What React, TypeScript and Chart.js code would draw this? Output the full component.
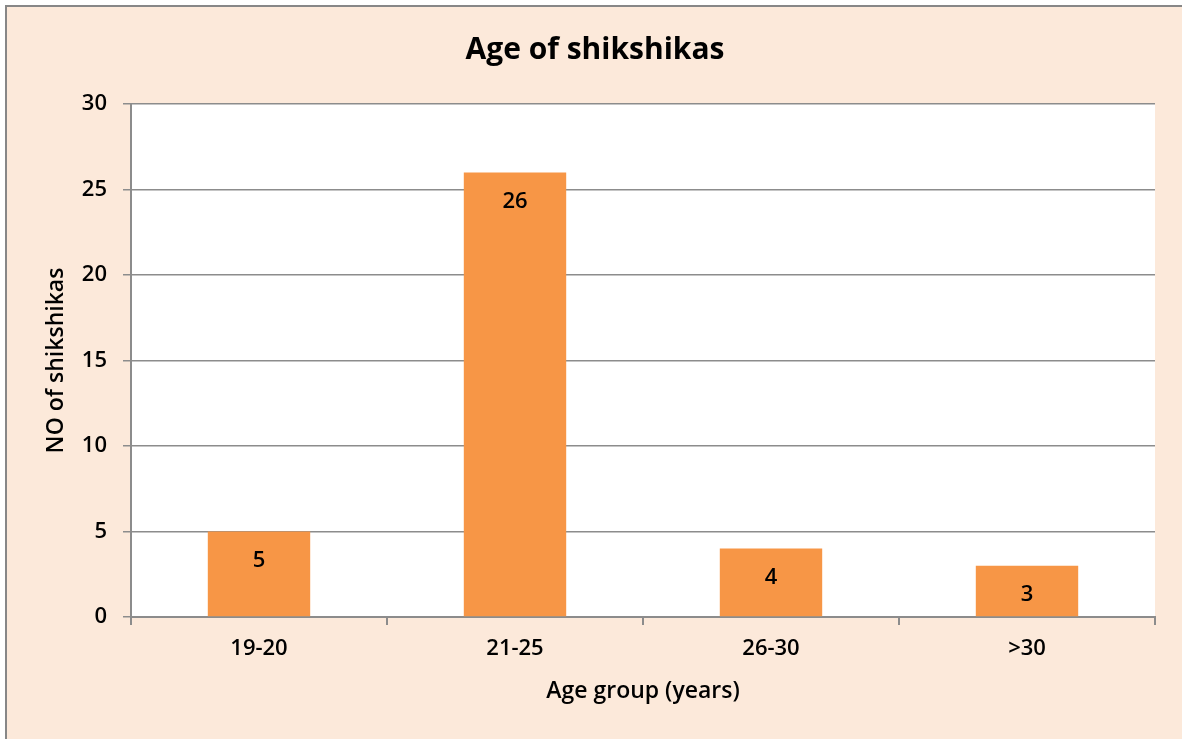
import React, { useEffect, useRef } from "react";
import { Chart, registerables } from "chart.js";

Chart.register(...registerables);

const categories = ["19-20", "21-25", "26-30", ">30"];
const counts = [5, 26, 4, 3];
const yTicks = [0, 5, 10, 15, 20, 25, 30];
const chartTitle = "Age of shikshikas";
const xTitle = "Age group (years)";
const yTitle = "NO of shikshikas";

const FONT = "'Open Sans', 'Noto Sans', sans-serif";
const BG = "#FCE9DA";
const BAR = "#F79646";
const GRID = "#8C8C8C";
const TXT_SIZE = 22;

const decorPlugin = {
  id: "decor",
  beforeDraw(chart: any) {
    const { ctx, chartArea, width, height } = chart;
    ctx.save();
    ctx.fillStyle = "#FFFFFF";
    ctx.fillRect(0, 0, width, height);
    ctx.fillStyle = BG;
    ctx.fillRect(5, 5, width, height);
    ctx.strokeStyle = "#878787";
    ctx.lineWidth = 2;
    ctx.beginPath();
    ctx.moveTo(6, height + 5);
    ctx.lineTo(6, 6);
    ctx.lineTo(width + 5, 6);
    ctx.stroke();
    ctx.fillStyle = "#FFFFFF";
    ctx.fillRect(chartArea.left, chartArea.top, chartArea.right - chartArea.left, chartArea.bottom - chartArea.top);
    ctx.restore();
  },
  afterDraw(chart: any) {
    const { ctx, chartArea } = chart;
    ctx.save();
    ctx.fillStyle = "#000000";
    ctx.textAlign = "center";
    ctx.textBaseline = "middle";
    ctx.font = `700 30px ${FONT}`;
    ctx.fillText(chartTitle, 595, 50);
    ctx.font = `600 23px ${FONT}`;
    ctx.fillText(xTitle, (chartArea.left + chartArea.right) / 2, 691);
    ctx.save();
    ctx.translate(56, (chartArea.top + chartArea.bottom) / 2);
    ctx.rotate(-Math.PI / 2);
    ctx.fillText(yTitle, 0, 0);
    ctx.restore();
    // data labels
    ctx.font = `600 ${TXT_SIZE}px ${FONT}`;
    const meta = chart.getDatasetMeta(0);
    meta.data.forEach((bar: any, i: number) => {
      ctx.fillText(String(counts[i]), bar.x, bar.y + 29);
    });
    ctx.restore();
  },
};

export default function App() {
  const ref = useRef<HTMLCanvasElement>(null);
  useEffect(() => {
    if (!ref.current) return;
    const chart = new Chart(ref.current, {
      type: "bar",
      data: {
        labels: categories,
        datasets: [
          {
            data: counts,
            backgroundColor: BAR,
            borderWidth: 0,
            barPercentage: 0.4,
            categoryPercentage: 1,
          },
        ],
      },
      options: {
        animation: false,
        responsive: false,
        maintainAspectRatio: false,
        events: [],
        layout: { padding: { left: 0, right: 27, top: 104, bottom: 0 } },
        plugins: {
          legend: { display: false },
          title: { display: false },
          tooltip: { enabled: false },
        },
        scales: {
          x: {
            grid: {
              display: true,
              drawOnChartArea: false,
              drawTicks: true,
              tickLength: 8,
              color: GRID,
              lineWidth: 2,
              offset: true,
            },
            border: { display: true, color: GRID, width: 2 },
            ticks: { color: "#000", font: { family: FONT, size: TXT_SIZE, weight: "600" }, padding: 11 },
            afterFit(scale: any) {
              scale.height = 739 - 617;
            },
          },
          y: {
            min: 0,
            max: 30,
            afterBuildTicks(scale: any) {
              scale.ticks = yTicks.map((v) => ({ value: v }));
            },
            grid: {
              color: GRID,
              lineWidth: 1.5,
              tickLength: 8,
              drawTicks: true,
            },
            border: { display: true, color: GRID, width: 2 },
            ticks: { color: "#000", font: { family: FONT, size: TXT_SIZE, weight: "600" }, padding: 16 },
            afterFit(scale: any) {
              scale.width = 131;
            },
          },
        },
      },
      plugins: [decorPlugin],
    });
    return () => chart.destroy();
  }, []);
  return (
    <div style={{ position: "fixed", left: 0, top: 0, width: 1182, height: 739 }}>
      <canvas ref={ref} width={1182} height={739} style={{ display: "block" }} />
    </div>
  );
}
